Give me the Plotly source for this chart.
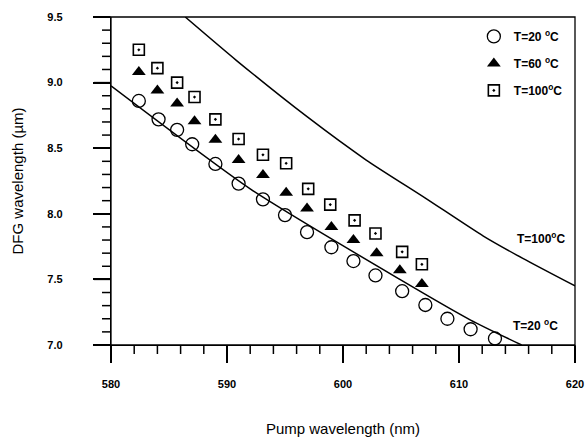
import plotly.graph_objects as go

# measured points (pump wavelength nm, DFG wavelength um)
pump_20 = [582.4, 584.1, 585.7, 587.0, 589.0, 591.0, 593.1, 595.0, 596.9, 599.0,
           600.9, 602.8, 605.1, 607.1, 609.0, 611.0, 613.1]
dfg_20 = [8.86, 8.72, 8.64, 8.53, 8.38, 8.23, 8.11, 7.99, 7.86, 7.745,
          7.64, 7.53, 7.41, 7.305, 7.20, 7.12, 7.05]

pump_60 = [582.4, 584.0, 585.7, 587.2, 589.0, 591.0, 593.1, 595.1, 596.9, 599.0,
           600.9, 602.9, 604.9, 606.8]
dfg_60 = [9.08, 8.94, 8.84, 8.705, 8.565, 8.41, 8.295, 8.16, 8.04, 7.90,
          7.80, 7.70, 7.57, 7.465]

pump_100 = [582.4, 584.0, 585.7, 587.2, 589.0, 591.0, 593.1, 595.1, 597.0, 598.9,
            601.0, 602.8, 605.1, 606.8]
dfg_100 = [9.25, 9.11, 9.00, 8.89, 8.72, 8.57, 8.45, 8.385, 8.19, 8.07,
           7.95, 7.85, 7.71, 7.615]

# calculated tuning curves
calc_pump_20 = [580.0, 592.0, 604.9, 611.0, 615.4]
calc_dfg_20 = [8.975, 8.19, 7.50, 7.19, 7.0]
calc_pump_100 = [586.4, 590.8, 596.9, 602.0, 607.1, 612.1, 615.5, 620.0]
calc_dfg_100 = [9.50, 9.17, 8.74, 8.41, 8.12, 7.83, 7.66, 7.45]

# axis ticks
X_RANGE = [580, 620]
Y_RANGE = [7.0, 9.5]
x_major = [580, 590, 600, 610, 620]
y_major = [7.0, 7.5, 8.0, 8.5, 9.0, 9.5]
x_minor = [v for v in range(582, 620, 2) if v % 10]
y_minor = [round(7.0 + 0.1 * i, 1) for i in range(1, 25) if i % 5]

FONT = "Liberation Sans, Arial, sans-serif"
PLOT_W, PLOT_H = 464, 328

fig = go.Figure()

for px_, py_ in [(calc_pump_20, calc_dfg_20), (calc_pump_100, calc_dfg_100)]:
    fig.add_trace(go.Scatter(x=px_, y=py_, mode="lines", showlegend=False,
                             line=dict(color="black", width=1.5, shape="spline", smoothing=0.6)))

fig.add_trace(go.Scatter(x=pump_20, y=dfg_20, mode="markers", name="T=20 <sup>o</sup>C",
                         legendgroup="a",
                         marker=dict(symbol="circle-open", size=13, color="black",
                                     line=dict(width=1.3, color="black"))))
fig.add_trace(go.Scatter(x=pump_60, y=dfg_60, mode="markers", name="T=60 <sup>o</sup>C",
                         legendgroup="b",
                         marker=dict(symbol="triangle-up", size=12, color="black")))
fig.add_trace(go.Scatter(x=pump_100, y=dfg_100, mode="markers", name="T=100<sup>o</sup>C",
                         legendgroup="c",
                         marker=dict(symbol="square-open-dot", size=11, color="black",
                                     line=dict(width=1.6, color="black"))))

fig.add_annotation(x=617.1, y=7.815, text="T=100<sup>o</sup>C", showarrow=False,
                   font=dict(family=FONT, size=12, color="black", weight="bold"))
fig.add_annotation(x=616.6, y=7.15, text="T=20 <sup>o</sup>C", showarrow=False,
                   font=dict(family=FONT, size=12, color="black", weight="bold"))

# frame round the plot area (top and right sides have no ticks)
fig.add_shape(type="rect", xref="paper", yref="paper", x0=0, x1=1, y0=0, y1=1,
              fillcolor="rgba(0,0,0,0)", line=dict(color="black", width=1.3), layer="above")

# tick marks drawn in paper space so they are not clipped (17 px major, 9 px minor)
tick_line = dict(color="black", width=1.5)
for v in x_major + x_minor:
    ln = 17 if v in x_major else 9
    xp = (v - X_RANGE[0]) / (X_RANGE[1] - X_RANGE[0])
    fig.add_shape(type="line", xref="paper", yref="paper", x0=xp, x1=xp, y0=0, y1=-ln / PLOT_H,
                  line=tick_line, layer="above")
for v in y_major + y_minor:
    ln = 17 if v in y_major else 9
    yp = (v - Y_RANGE[0]) / (Y_RANGE[1] - Y_RANGE[0])
    fig.add_shape(type="line", xref="paper", yref="paper", x0=0, x1=-ln / PLOT_W, y0=yp, y1=yp,
                  line=tick_line, layer="above")

axis_common = dict(showline=True, linecolor="black", linewidth=1.3,
                   ticks="outside", ticklen=17, tickwidth=1.5, tickcolor="black",
                   showgrid=False, zeroline=False, automargin=False,
                   tickfont=dict(family=FONT, size=11, color="black", weight="bold"))

fig.update_xaxes(range=X_RANGE, tickvals=x_major, tickformat="d",
                 ticklabelstandoff=12,
                 title=dict(text="Pump wavelength (nm)", standoff=34,
                            font=dict(family=FONT, size=15, color="black")),
                 **axis_common)
fig.update_yaxes(range=Y_RANGE, tickvals=y_major, tickformat=".1f",
                 ticklabelstandoff=28,
                 title=dict(text="DFG wavelength (\u00b5m)", standoff=20,
                            font=dict(family=FONT, size=15, color="black")),
                 **axis_common)

fig.update_layout(
    width=587, height=439,
    margin=dict(l=111, r=12, t=17, b=94),
    plot_bgcolor="white", paper_bgcolor="white",
    legend=dict(x=0.782, y=0.985, xanchor="left", yanchor="top", bgcolor="rgba(0,0,0,0)",
                tracegroupgap=8,
                font=dict(family=FONT, size=12, color="black", weight="bold")),
)

# page body margin would shift the figure by 8px
fig.write_html("out.html", config={"displayModeBar": False},
               post_script="document.body.style.margin='0px';")
